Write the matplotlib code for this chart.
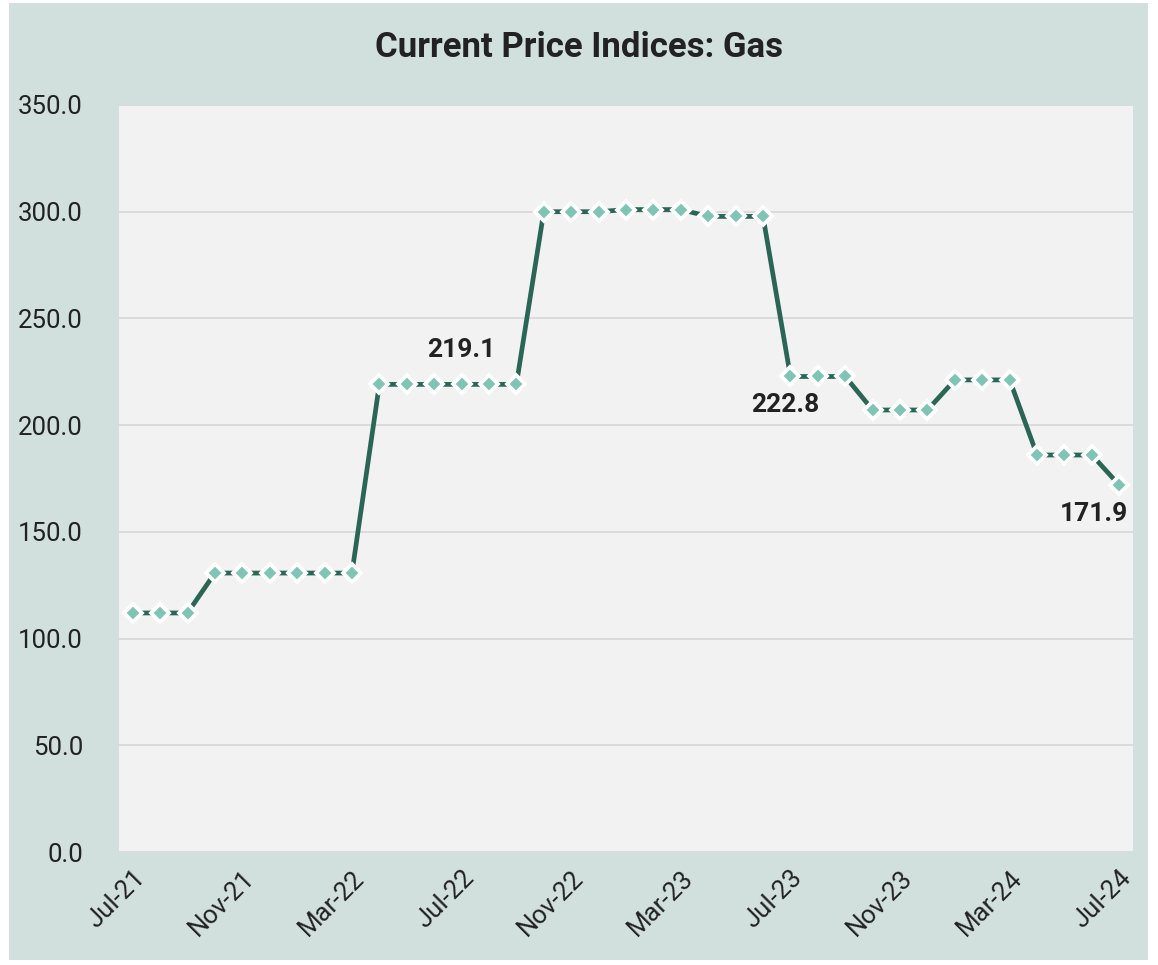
import matplotlib.pyplot as plt
from matplotlib.patches import Rectangle

months = ['Jul-21', 'Aug-21', 'Sep-21', 'Oct-21', 'Nov-21', 'Dec-21', 'Jan-22', 'Feb-22', 'Mar-22',
          'Apr-22', 'May-22', 'Jun-22', 'Jul-22', 'Aug-22', 'Sep-22', 'Oct-22', 'Nov-22', 'Dec-22',
          'Jan-23', 'Feb-23', 'Mar-23', 'Apr-23', 'May-23', 'Jun-23', 'Jul-23', 'Aug-23', 'Sep-23',
          'Oct-23', 'Nov-23', 'Dec-23', 'Jan-24', 'Feb-24', 'Mar-24', 'Apr-24', 'May-24', 'Jun-24',
          'Jul-24']
gas_index = [112.0, 112.0, 112.0, 130.7, 130.7, 130.7, 130.7, 130.7, 130.7,
             219.1, 219.1, 219.1, 219.1, 219.1, 219.1, 300.0, 300.0, 300.0,
             301.0, 301.0, 301.0, 297.8, 297.8, 297.8, 222.8, 222.8, 222.8,
             207.1, 207.1, 207.1, 221.2, 221.2, 221.2, 186.0, 186.0, 186.0,
             171.9]
# (month index, label offset in points, alignment)
labels = [(12, (0, 16), 'bottom'), (24, (-4, -12), 'top'), (36, (-18, -12), 'top')]

plt.rcParams['font.family'] = ['Roboto', 'DejaVu Sans']

fig = plt.figure(figsize=(11.58, 9.65), dpi=100, facecolor='white')
fig.patches.append(Rectangle((9 / 1158, 5 / 965), 1139 / 1158, 957 / 965,
                             transform=fig.transFigure, facecolor='#d1e0dd',
                             edgecolor='none', zorder=-10))
ax = fig.add_axes([119 / 1158, 113 / 965, 1014 / 1158, 747 / 965])
ax.set_facecolor('#f2f2f2')

x = list(range(len(months)))
ax.plot(x, gas_index, color='#2a6556', linewidth=3.4, marker='D', markersize=9.2,
        markerfacecolor='#7fc4b4', markeredgecolor='white', markeredgewidth=2.7, zorder=3)

for i, off, va in labels:
    ax.annotate(f'{gas_index[i]:.1f}', (i, gas_index[i]), xytext=off, textcoords='offset points',
                ha='center', va=va, fontsize=19, fontweight='bold', color='#222222')

ax.set_xlim(-0.5, len(months) - 0.5)
ax.set_ylim(0, 350)
ax.set_yticks(range(0, 351, 50))
ax.set_yticklabels([f'{v:.1f}' for v in range(0, 351, 50)])
ax.set_xticks(x[::4])
ax.set_xticklabels(months[::4], rotation=45, ha='right', rotation_mode='anchor')
ax.tick_params(axis='both', length=0, labelsize=18.5, colors='#222222')
ax.tick_params(axis='x', pad=10)
ax.tick_params(axis='y', pad=26)
ax.grid(axis='y', color='#d9d9d9', linewidth=1.3)
ax.set_axisbelow(True)
for s in ax.spines.values():
    s.set_visible(False)

fig.text(0.5, 0.951, 'Current Price Indices: Gas', ha='center', va='center',
         fontsize=25, fontweight='bold', color='#222222')

fig.savefig('out.png', dpi=100, facecolor=fig.get_facecolor())
